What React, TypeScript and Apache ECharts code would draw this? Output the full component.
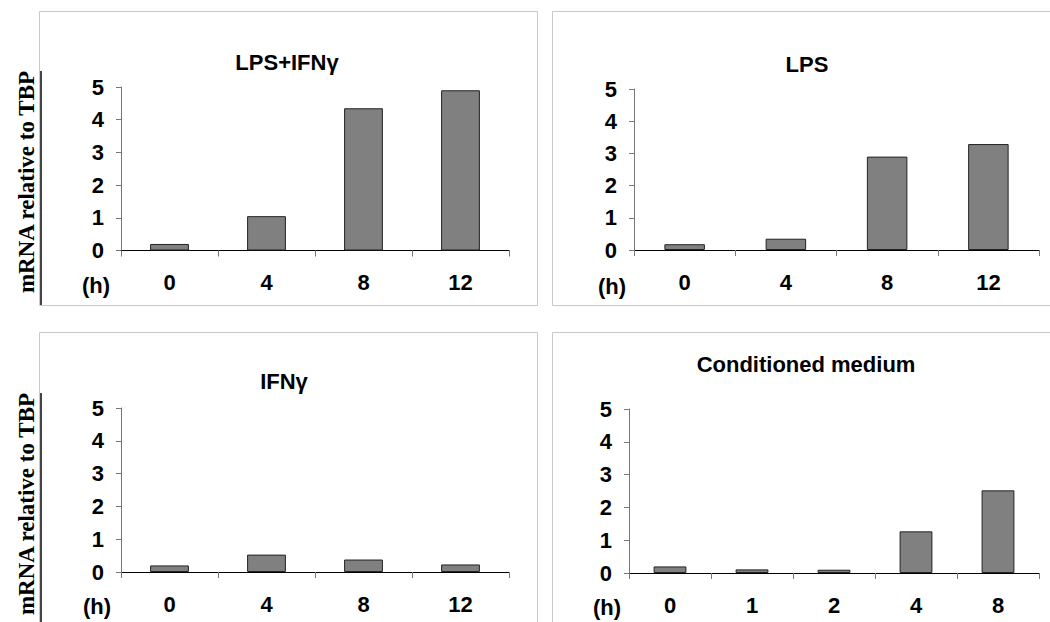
import React, { useEffect, useRef } from "react";
import * as echarts from "echarts";

const titles = ["LPS+IFNγ", "LPS", "IFNγ", "Conditioned medium"];
const hoursA = ["0", "4", "8", "12"];
const hoursB = ["0", "1", "2", "4", "8"];
const lpsIfn = [0.2, 1.05, 4.35, 4.9];
const lps = [0.18, 0.35, 2.9, 3.29];
const ifn = [0.2, 0.53, 0.38, 0.23];
const condMedium = [0.2, 0.11, 0.1, 1.27, 2.52];
const yTicksMax = 5;
const yLabel = "mRNA relative to TBP";

const SANS = "'Liberation Sans', Arial, sans-serif";
const SERIF = "'Liberation Serif', 'Times New Roman', serif";

export default function App() {
  const ref = useRef<HTMLDivElement>(null);
  useEffect(() => {
    if (!ref.current) return;
    const chart = echarts.init(ref.current, null, { renderer: "svg" });
    const grids = [
      { left: 121, top: 87, width: 388, height: 163.5 },
      { left: 634, top: 89, width: 405, height: 161 },
      { left: 121, top: 408, width: 388, height: 164 },
      { left: 629, top: 409, width: 410, height: 164 },
    ];
    const cats = [hoursA, hoursA, hoursA, hoursB];
    const datas = [lpsIfn, lps, ifn, condMedium];
    const titlePos = [
      { x: 282, y: 46 },
      { x: 802, y: 48 },
      { x: 279, y: 365 },
      { x: 801, y: 348 },
    ];
    const hPos = [
      { x: 96, y: 285 },
      { x: 612, y: 286 },
      { x: 97, y: 606 },
      { x: 607, y: 607 },
    ];
    const option: any = {
      animation: false,
      backgroundColor: "#ffffff",
      title: titles.map((t, i) => ({
        text: t,
        left: titlePos[i].x,
        top: titlePos[i].y,
        textAlign: "center",
        textStyle: { fontFamily: SANS, fontSize: 22, fontWeight: "bold", color: "#000" },
      })),
      grid: grids.map((g) => ({ ...g, containLabel: false })),
      xAxis: cats.map((c, i) => ({
        type: "category",
        gridIndex: i,
        data: c,
        boundaryGap: true,
        axisLine: { lineStyle: { color: "#000", width: 1 } },
        axisTick: { show: true, length: 6, lineStyle: { color: "#777" }, alignWithLabel: false },
        axisLabel: { margin: 21, fontFamily: SANS, fontSize: 22, fontWeight: "bold", color: "#000" },
        splitLine: { show: false },
      })),
      yAxis: cats.map((c, i) => ({
        type: "value",
        gridIndex: i,
        min: 0,
        max: yTicksMax,
        interval: 1,
        axisLine: { show: true, lineStyle: { color: "#777", width: 1 } },
        axisTick: { show: true, length: 5, lineStyle: { color: "#777" } },
        axisLabel: { margin: 17, fontFamily: SANS, fontSize: 22, fontWeight: "bold", color: "#000" },
        splitLine: { show: false },
      })),
      series: datas.map((d, i) => ({
        type: "bar",
        xAxisIndex: i,
        yAxisIndex: i,
        data: d,
        barWidth: "40%",
        itemStyle: { color: "#808080", borderColor: "#222", borderWidth: 1 },
      })),
      graphic: [
        { type: "rect", shape: { x: 39.5, y: 11.5, width: 498, height: 294 }, style: { fill: "none", stroke: "#c8c8c8", lineWidth: 1 }, z: 0 },
        { type: "rect", shape: { x: 552.5, y: 11.5, width: 500, height: 294 }, style: { fill: "none", stroke: "#c8c8c8", lineWidth: 1 }, z: 0 },
        { type: "rect", shape: { x: 39.5, y: 332.5, width: 498, height: 300 }, style: { fill: "none", stroke: "#c8c8c8", lineWidth: 1 }, z: 0 },
        { type: "rect", shape: { x: 552.5, y: 332.5, width: 500, height: 300 }, style: { fill: "none", stroke: "#c8c8c8", lineWidth: 1 }, z: 0 },
        { type: "line", shape: { x1: 41, y1: 71, x2: 41, y2: 305 }, style: { stroke: "#444", lineWidth: 2 }, z: 5 },
        { type: "line", shape: { x1: 41, y1: 393, x2: 41, y2: 622 }, style: { stroke: "#444", lineWidth: 2 }, z: 5 },
        {
          type: "text",
          x: 26,
          y: 182,
          rotation: Math.PI / 2,
          style: { text: yLabel, font: `bold 23px ${SERIF}`, fill: "#000", align: "center", verticalAlign: "middle" },
          z: 5,
        },
        {
          type: "text",
          x: 26,
          y: 504,
          rotation: Math.PI / 2,
          style: { text: yLabel, font: `bold 23px ${SERIF}`, fill: "#000", align: "center", verticalAlign: "middle" },
          z: 5,
        },
        ...hPos.map((p) => ({
          type: "text",
          x: p.x,
          y: p.y,
          style: { text: "(h)", font: `bold 22px ${SANS}`, fill: "#000", align: "center", verticalAlign: "middle" },
          z: 5,
        })),
      ],
    };
    chart.setOption(option);
    return () => chart.dispose();
  }, []);
  return (
    <div
      ref={ref}
      style={{ position: "fixed", left: 0, top: 0, width: 1050, height: 622, background: "#fff" }}
    />
  );
}
